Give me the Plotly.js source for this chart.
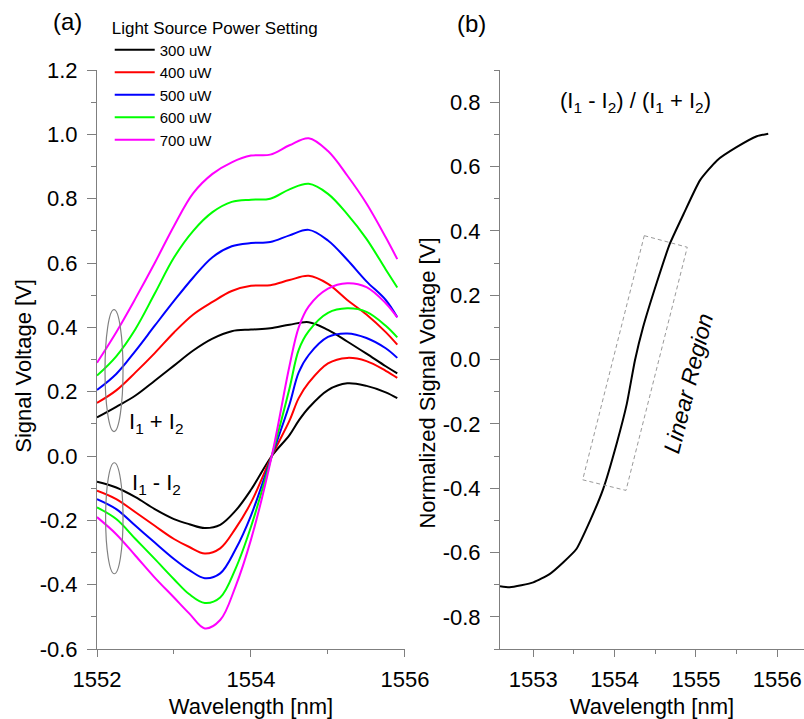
<!DOCTYPE html>
<html>
<head>
<meta charset="utf-8">
<script src="https://cdn.plot.ly/plotly-3.0.1.min.js"></script>
<style>html,body{margin:0;padding:0;background:#fff;}#chart{width:804px;height:719px;}</style>
</head>
<body>
<div id="chart"></div>
<script>
// ---- Panel (a): I1 + I2 (sum) ----
const wlSum = [1552, 1552.25, 1552.5, 1552.75, 1553, 1553.25, 1553.5, 1553.75, 1554, 1554.25, 1554.5, 1554.75, 1555, 1555.25, 1555.5, 1555.75, 1555.9];
const sum300 = [0.12, 0.153, 0.188, 0.234, 0.281, 0.328, 0.365, 0.388, 0.393, 0.397, 0.408, 0.416, 0.392, 0.356, 0.318, 0.279, 0.257];
const sum400 = [0.165, 0.204, 0.26, 0.32, 0.384, 0.44, 0.479, 0.513, 0.529, 0.531, 0.547, 0.56, 0.535, 0.485, 0.44, 0.385, 0.346];
const sum500 = [0.205, 0.255, 0.327, 0.405, 0.482, 0.555, 0.618, 0.652, 0.662, 0.665, 0.686, 0.703, 0.67, 0.61, 0.543, 0.485, 0.431];
const sum600 = [0.25, 0.31, 0.395, 0.505, 0.617, 0.70, 0.758, 0.79, 0.797, 0.80, 0.829, 0.846, 0.815, 0.752, 0.675, 0.58, 0.524];
const sum700 = [0.29, 0.385, 0.49, 0.60, 0.715, 0.817, 0.877, 0.913, 0.934, 0.937, 0.966, 0.988, 0.948, 0.872, 0.785, 0.68, 0.612];

// ---- Panel (a): I1 - I2 (difference) ----
const wlDiff = [1552, 1552.25, 1552.5, 1552.75, 1553, 1553.2, 1553.4, 1553.6, 1553.8, 1554, 1554.27, 1554.5, 1554.62, 1554.75, 1555, 1555.25, 1555.5, 1555.75, 1555.9];
const diff300 = [-0.08, -0.098, -0.128, -0.165, -0.196, -0.212, -0.224, -0.214, -0.17, -0.105, 0, 0.065, 0.11, 0.15, 0.205, 0.226, 0.218, 0.198, 0.18];
const diff400 = [-0.108, -0.134, -0.175, -0.217, -0.258, -0.283, -0.303, -0.287, -0.225, -0.145, 0, 0.11, 0.18, 0.228, 0.288, 0.305, 0.295, 0.265, 0.243];
const diff500 = [-0.134, -0.165, -0.217, -0.269, -0.32, -0.355, -0.38, -0.365, -0.29, -0.185, 0, 0.16, 0.26, 0.314, 0.37, 0.381, 0.367, 0.335, 0.305];
const diff600 = [-0.16, -0.196, -0.258, -0.32, -0.383, -0.43, -0.457, -0.44, -0.35, -0.22, 0, 0.21, 0.33, 0.388, 0.445, 0.459, 0.448, 0.405, 0.369];
const diff700 = [-0.19, -0.243, -0.31, -0.378, -0.44, -0.49, -0.536, -0.51, -0.405, -0.26, 0, 0.28, 0.40, 0.465, 0.52, 0.537, 0.525, 0.475, 0.431];

// ---- Panel (b): normalized ----
const wlNorm = [1552.59, 1552.71, 1553.0, 1553.2, 1553.37, 1553.53, 1553.7, 1553.86, 1554.03, 1554.15, 1554.25, 1554.35, 1554.52, 1554.68, 1554.85, 1555.05, 1555.26, 1555.5, 1555.75, 1555.89];
const normVal = [-0.705, -0.708, -0.693, -0.667, -0.63, -0.589, -0.50, -0.402, -0.257, -0.138, -0.003, 0.10, 0.24, 0.36, 0.453, 0.557, 0.619, 0.66, 0.694, 0.702];

const seriesNames = ["300 uW", "400 uW", "500 uW", "600 uW", "700 uW"];
const seriesColors = ["#000000", "#ff0000", "#0000ff", "#00ff00", "#ff00ff"];

const yTickValsA = [-0.6, -0.4, -0.2, 0.0, 0.2, 0.4, 0.6, 0.8, 1.0, 1.2];
const yTickTextA = ["-0.6", "-0.4", "-0.2", "0.0", "0.2", "0.4", "0.6", "0.8", "1.0", "1.2"];
const yTickValsB = [-0.8, -0.6, -0.4, -0.2, 0.0, 0.2, 0.4, 0.6, 0.8];
const yTickTextB = ["-0.8", "-0.6", "-0.4", "-0.2", "0.0", "0.2", "0.4", "0.6", "0.8"];
const xTickValsA = [1552, 1554, 1556];
const xTickValsB = [1553, 1554, 1555, 1556];

const sums = [sum300, sum400, sum500, sum600, sum700];
const diffs = [diff300, diff400, diff500, diff600, diff700];

const traces = [];
for (let i = 0; i < 5; i++) {
  traces.push({x: wlSum, y: sums[i], type: 'scatter', mode: 'lines', name: seriesNames[i],
    legendgroup: 'g' + i, line: {color: seriesColors[i], width: 2, shape: 'spline', smoothing: 1},
    xaxis: 'x', yaxis: 'y'});
}
for (let i = 0; i < 5; i++) {
  traces.push({x: wlDiff, y: diffs[i], type: 'scatter', mode: 'lines', name: seriesNames[i],
    legendgroup: 'g' + i, showlegend: false, line: {color: seriesColors[i], width: 2, shape: 'spline', smoothing: 1},
    xaxis: 'x', yaxis: 'y'});
}
traces.push({x: wlNorm, y: normVal, type: 'scatter', mode: 'lines', name: 'normalized', showlegend: false,
  line: {color: '#000000', width: 2, shape: 'spline', smoothing: 0.5}, xaxis: 'x2', yaxis: 'y2'});

const FONT = 'Arial, "Liberation Sans", Helvetica, sans-serif';
const axisCommon = {
  showline: true, linecolor: '#7f7f7f', linewidth: 1, mirror: false,
  showgrid: false, zeroline: false, ticks: 'outside', tickcolor: '#7f7f7f', tickwidth: 1,
  tickfont: {family: FONT, size: 22, color: '#000'}
};

const layout = {
  width: 804, height: 719,
  margin: {l: 97, r: 0, t: 70, b: 70},
  paper_bgcolor: '#fff', plot_bgcolor: 'rgba(0,0,0,0)',
  font: {family: FONT, color: '#000'},
  showlegend: true,
  legend: {
    x: 0.018, y: 1.101, xanchor: 'left', yanchor: 'top',
    bgcolor: 'rgba(0,0,0,0)', borderwidth: 0,
    font: {family: FONT, size: 15, color: '#000'},
    title: {text: 'Light Source Power Setting', font: {family: FONT, size: 17, color: '#000'}, side: 'top'},
    tracegroupgap: 0, itemwidth: 40
  },
  xaxis: Object.assign({}, axisCommon, {
    domain: [0, 0.4356], range: [1552, 1556], anchor: 'y',
    tickmode: 'array', tickvals: xTickValsA, ticklen: 7, ticklabelstandoff: 4,
    minor: {dtick: 1, tick0: 1552, ticks: 'outside', ticklen: 4, tickcolor: '#7f7f7f', showgrid: false},
    title: {text: 'Wavelength [nm]', font: {family: FONT, size: 22, color: '#000'}, standoff: 10}
  }),
  yaxis: Object.assign({}, axisCommon, {
    domain: [0, 1], range: [-0.6, 1.2], anchor: 'x',
    tickmode: 'array', tickvals: yTickValsA, ticktext: yTickTextA, ticklen: 9, ticklabelstandoff: 5,
    minor: {dtick: 0.1, tick0: 0, ticks: 'outside', ticklen: 5, tickcolor: '#7f7f7f', showgrid: false}
  }),
  xaxis2: Object.assign({}, axisCommon, {
    domain: [0.570, 1], range: [1552.59, 1556.33], anchor: 'y2',
    tickmode: 'array', tickvals: xTickValsB, ticklen: 7, ticklabelstandoff: 4,
    minor: {dtick: 0.5, tick0: 1553, ticks: 'outside', ticklen: 4, tickcolor: '#7f7f7f', showgrid: false},
    title: {text: 'Wavelength [nm]', font: {family: FONT, size: 22, color: '#000'}, standoff: 10}
  }),
  yaxis2: Object.assign({}, axisCommon, {
    domain: [0, 1], range: [-0.9, 0.9], anchor: 'x2',
    tickmode: 'array', tickvals: yTickValsB, ticktext: yTickTextB, ticklen: 9, ticklabelstandoff: 5,
    minor: {dtick: 0.1, tick0: 0, ticks: 'outside', ticklen: 5, tickcolor: '#7f7f7f', showgrid: false}
  }),
  shapes: [
    {type: 'circle', xref: 'x', yref: 'y', x0: 1552.104, x1: 1552.338, y0: 0.076, y1: 0.455,
      line: {color: '#808080', width: 1.2}},
    {type: 'circle', xref: 'x', yref: 'y', x0: 1552.112, x1: 1552.338, y0: -0.366, y1: -0.021,
      line: {color: '#808080', width: 1.2}},
    {type: 'path', xref: 'x2', yref: 'y2',
      path: 'M 1554.365 0.385 L 1554.894 0.349 L 1554.14 -0.407 L 1553.607 -0.374 Z',
      line: {color: '#9a9a9a', width: 1, dash: '4px,3px'}}
  ],
  annotations: [
    {text: '(a)', xref: 'paper', yref: 'paper', x: -0.042, y: 1.083, xanchor: 'center', yanchor: 'middle',
      showarrow: false, font: {family: FONT, size: 24, color: '#000'}},
    {text: '(b)', xref: 'paper', yref: 'paper', x: 0.529, y: 1.081, xanchor: 'center', yanchor: 'middle',
      showarrow: false, font: {family: FONT, size: 24, color: '#000'}},
    {text: 'Signal Voltage [V]', xref: 'paper', yref: 'paper', x: -0.104, y: 0.49, textangle: -90,
      xanchor: 'center', yanchor: 'middle', showarrow: false, font: {family: FONT, size: 22, color: '#000'}},
    {text: 'Normalized Signal Voltage [V]', xref: 'paper', yref: 'paper', x: 0.468, y: 0.46, textangle: -90,
      xanchor: 'center', yanchor: 'middle', showarrow: false, font: {family: FONT, size: 22, color: '#000'}},
    {text: 'I<sub>1</sub> + I<sub>2</sub>', xref: 'paper', yref: 'paper', x: 0.084, y: 0.39,
      xanchor: 'center', yanchor: 'middle', showarrow: false, font: {family: FONT, size: 22, color: '#000'}},
    {text: 'I<sub>1</sub> - I<sub>2</sub>', xref: 'paper', yref: 'paper', x: 0.084, y: 0.285,
      xanchor: 'center', yanchor: 'middle', showarrow: false, font: {family: FONT, size: 22, color: '#000'}},
    {text: '(I<sub>1</sub> - I<sub>2</sub>) / (I<sub>1</sub> + I<sub>2</sub>)', xref: 'paper', yref: 'paper', x: 0.762, y: 0.945,
      xanchor: 'center', yanchor: 'middle', showarrow: false, font: {family: FONT, size: 22, color: '#000'}},
    {text: '<i>Linear Region</i>', xref: 'paper', yref: 'paper', x: 0.836, y: 0.458, textangle: -76,
      xanchor: 'center', yanchor: 'middle', showarrow: false, font: {family: FONT, size: 23, color: '#000'}}
  ]
};

Plotly.newPlot('chart', traces, layout, {staticPlot: true, displayModeBar: false});
</script>
</body>
</html>
